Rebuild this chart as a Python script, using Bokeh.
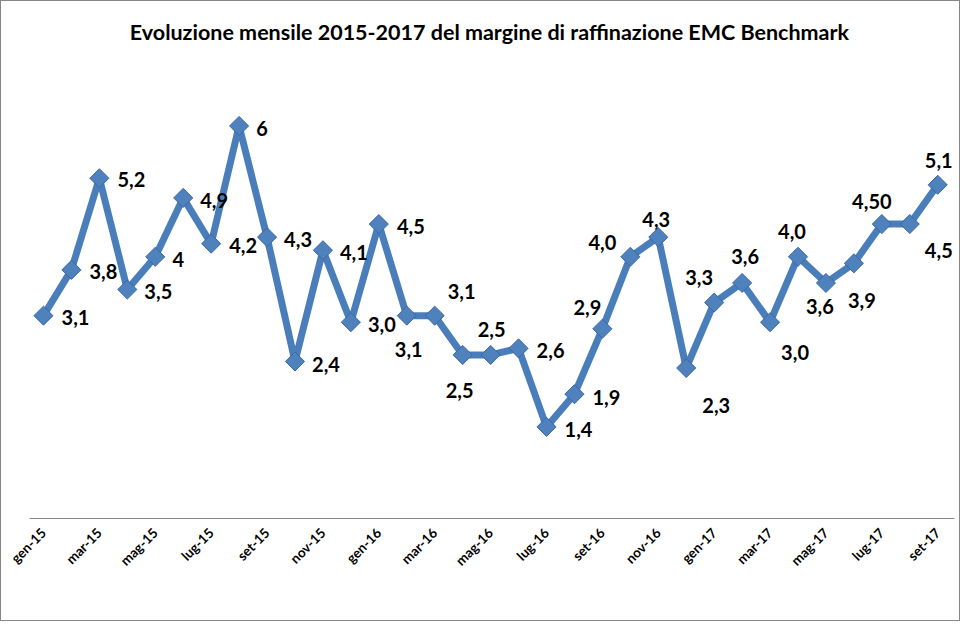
import math
from bokeh.plotting import figure
from bokeh.models import ColumnDataSource, FixedTicker, Range1d
from bokeh.core.properties import value
from bokeh.embed import file_html
from bokeh.resources import INLINE

# ---- data ----
months = ["gen-15", "feb-15", "mar-15", "apr-15", "mag-15", "giu-15", "lug-15", "ago-15",
          "set-15", "ott-15", "nov-15", "dic-15",
          "gen-16", "feb-16", "mar-16", "apr-16", "mag-16", "giu-16", "lug-16", "ago-16",
          "set-16", "ott-16", "nov-16", "dic-16",
          "gen-17", "feb-17", "mar-17", "apr-17", "mag-17", "giu-17", "lug-17", "ago-17",
          "set-17"]
margins = [3.1, 3.8, 5.2, 3.5, 4.0, 4.9, 4.2, 6.0, 4.3, 2.4, 4.1, 3.0,
           4.5, 3.1, 3.1, 2.5, 2.5, 2.6, 1.4, 1.9, 2.9, 4.0, 4.3, 2.3,
           3.3, 3.6, 3.0, 4.0, 3.6, 3.9, 4.5, 4.5, 5.1]
point_labels = ["3,1", "3,8", "5,2", "3,5", "4", "4,9", "4,2", "6", "4,3", "2,4", "4,1", "3,0",
                "4,5", "3,1", "3,1", "2,5", "2,5", "2,6", "1,4", "1,9", "2,9", "4,0", "4,3", "2,3",
                "3,3", "3,6", "3,0", "4,0", "3,6", "3,9", "4,50", "4,5", "5,1"]
tick_labels = ["gen-15", "mar-15", "mag-15", "lug-15", "set-15", "nov-15",
               "gen-16", "mar-16", "mag-16", "lug-16", "set-16", "nov-16",
               "gen-17", "mar-17", "mag-17", "lug-17", "set-17"]
title_text = "Evoluzione mensile 2015-2017  del margine di raffinazione EMC Benchmark"

# ---- label placement (screen pixel offsets, style only) ----
label_dx = [32, 32, 32, 31, 23, 31, 32, 23, 31, 31, 31, 31,
            32, 2, 27, -3, 1, 32, 32, 32, -15, -28, -2, 30,
            -15, 3, 25, -6, -6, 8, -10, 29, 1]
label_dy = [2, 2, 1, 2, 3, 3, 2, 3, 2, 3, 2, 2,
            2, 34, -24, 36, -25, 2, 3, 3, -21, -14, -18, 37,
            -25, -26, 30, -25, 24, 37, -23, 26, -24]

idx = list(range(len(months)))
src = ColumnDataSource(dict(x=idx, y=margins, lab=point_labels, dx=label_dx, dy=label_dy))

BLUE = "#4A7EBB"

p = figure(width=960, height=621, output_backend="svg", toolbar_location=None,
           x_range=Range1d(-0.5, 32.6), y_range=Range1d(0, 7),
           y_axis_location=None,
           min_border_left=28, min_border_right=7, min_border_top=59, min_border_bottom=104)
p.styles = {"border": "1px solid #868686"}
p.background_fill_color = "white"
p.border_fill_color = "white"
p.outline_line_color = None
p.xgrid.visible = False
p.ygrid.visible = False

p.title.text = title_text
p.title.align = "center"
p.title.text_font = "Lato"
p.title.text_font_size = "21.5px"
p.title.text_font_style = "bold"
p.title.text_color = "black"
p.title.standoff = 31

p.line("x", "y", source=src, line_color=BLUE, line_width=7, line_join="round")
p.scatter("x", "y", source=src, marker="square", size=13.5, angle=math.pi / 4,
          fill_color="#4F81BD", line_color="#3A69A3", line_width=1)

p.text("x", "y", text="lab", source=src, x_offset="dx", y_offset="dy",
       text_align="center", text_baseline="middle",
       text_font=value("Lato"), text_font_size="20px", text_font_style="bold",
       text_color="black")

ax = p.xaxis[0]
ax.ticker = FixedTicker(ticks=list(range(0, len(months), 2)))
ax.major_label_overrides = {i: tick_labels[k] for k, i in enumerate(range(0, len(months), 2))}
ax.major_label_orientation = math.pi / 4
ax.major_label_text_font = "Lato"
ax.major_label_text_font_size = "13.5px"
ax.major_label_text_font_style = "bold"
ax.major_label_text_color = "black"
ax.major_label_standoff = 6
ax.axis_line_color = "#868686"
ax.axis_line_width = 1
ax.major_tick_line_color = None
ax.minor_tick_line_color = None

open("out.html", "w").write(file_html(p, INLINE))
